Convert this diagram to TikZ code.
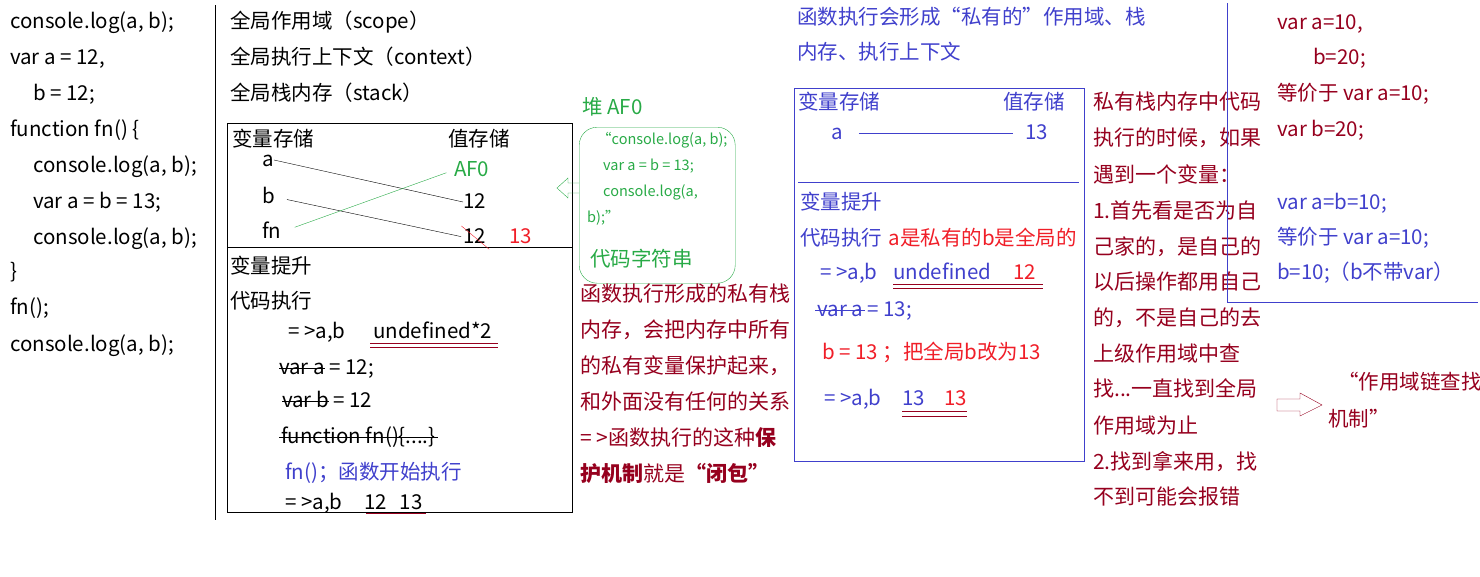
\documentclass[tikz,border=0pt]{standalone}
\usepackage{fontspec}
\setmainfont{Noto Sans CJK SC}
\usepackage{xcolor}
\usetikzlibrary{positioning}

\definecolor{codeblue}{RGB}{64,64,204}
\definecolor{heapgreen}{RGB}{40,170,70}
\definecolor{notered}{RGB}{150,0,30}
\definecolor{hotred}{RGB}{240,30,40}

\begin{document}
\begin{tikzpicture}[
  x=1pt, y=-1pt,
  txt/.style    ={anchor=west, inner sep=0pt, text height=16pt, text depth=3pt,
                  font=\fontsize{20.5}{24}\selectfont},
  note/.style   ={txt, notered, font=\fontsize{21}{25}\selectfont},
  heaptxt/.style={txt, heapgreen, text height=12pt, text depth=2pt,
                  font=\fontsize{14.5}{17}\selectfont},
  panel/.style  ={draw, anchor=north west, inner sep=0pt},
  strike/.style ={shorten <=-2pt, shorten >=-2pt},
  dbl/.style    ={notered, double, double distance=3pt, line width=1pt}
]
\useasboundingbox (0,0) rectangle (1480,576);

%--- source code ------------------------------------------------------------
\node[txt] (src1)  at (10,22)  {console.log(a, b);};
\node[txt] (src2)  at (10,58)  {var a = 12,};
\node[txt] (src3)  at (33,94)  {b = 12;};
\node[txt] (src4)  at (10,130) {function fn() \{};
\node[txt] (src5)  at (33,166) {console.log(a, b);};
\node[txt] (src6)  at (33,202) {var a = b = 13;};
\node[txt] (src7)  at (33,238) {console.log(a, b);};
\node[txt] (src8)  at (10,272) {\}};
\node[txt] (src9)  at (10,308) {fn();};
\node[txt] (src10) at (10,345) {console.log(a, b);};

\draw (215,5) -- (215,520);

%--- global stack -----------------------------------------------------------
\node[txt] (scope)   at (230,22) {全局作用域（scope）};
\node[txt] (context) at (230,58) {全局执行上下文（context）};
\node[txt] (stack)   at (230,94) {全局栈内存（stack）};

\node[panel, minimum width=345pt, minimum height=389pt] (gstack) at (227,123) {};
\draw (gstack.west |- 0,247) -- (gstack.east |- 0,247);

\node[txt] (gvars) at (232,140) {变量存储};
\node[txt] (gvals) at (448,140) {值存储};
\node[txt] (ga)    at (262,160) {a};
\node[txt] (gb)    at (262,197) {b};
\node[txt] (gfn)   at (262,232) {fn};
\node[txt, heapgreen] (gaf) at (454,170) {AF0};
\node[txt] (v12a)  at (463,202) {12};
\node[txt] (v12b)  at (463,237) {12};
\node[txt, hotred] (v13) at (509,237) {13};

\draw[shorten <=12pt, shorten >=2pt] (ga.east) -- (v12a.west)
      (gb.east) -- (v12b.west);
\draw[heapgreen, shorten <=14pt, shorten >=8pt] (gfn.east) -- (gaf.west);
\draw[hotred, shorten <=-2pt, shorten >=-4pt] (v12b.north west) -- (v12b.south east);

\node[txt] (ghoist) at (230,267) {变量提升};
\node[txt] (grun)   at (230,302) {代码执行};
\node[txt] (gout1)  at (288,332) {= >a,b};
\node[txt] (gundef) at (373,332) {undefined*2};
\draw[dbl] ([shift={(-3pt,-4pt)}]gundef.south west) -- ([shift={(6pt,-4pt)}]gundef.south east);

\node[txt] (gvara)  at (279,368) {var a};
\node[txt, right=4pt of gvara] (gvara2) {= 12;};
\node[txt] (gvarb)  at (282,401) {var b};
\node[txt, right=4pt of gvarb] (gvarb2) {= 12};
\node[txt] (gfun)   at (281,437) {function fn()\{....\}};
\draw[strike] (gvara.west) -- (gvara.east)
              (gvarb.west) -- (gvarb.east)
              (gfun.west) -- (gfun.east);

\node[txt, codeblue] (gcall) at (285,473) {fn()；函数开始执行};
\node[txt] (gout2) at (285,503) {= >a,b};
\node[txt] (gres)  at (364,503) {12\hspace{13pt}13};
\draw[notered, line width=1pt] ([shift={(2pt,-1pt)}]gres.south west) -- ([shift={(3pt,-1pt)}]gres.south east);

%--- heap -------------------------------------------------------------------
\node[txt, heapgreen] (heaplbl) at (582,108) {堆 AF0};
\node[panel, draw=heapgreen, rounded corners=18pt, minimum width=156pt,
      minimum height=156pt] (heap) at (579,127) {};
\node[heaptxt] (hl1) at (597,139) {“console.log(a, b);};
\node[heaptxt] (hl2) at (603,165) {var a = b = 13;};
\node[heaptxt] (hl3) at (603,191) {console.log(a,};
\node[heaptxt] (hl4) at (587,217) {b);”};
\node[txt, heapgreen] (hstr) at (590,260) {代码字符串};

\draw[heapgreen] (heap.west |- 0,183) -- (568,183) -- (568,178) -- (557,188)
      -- (568,198) -- (568,193) -- (heap.west |- 0,193);

%--- closure note -----------------------------------------------------------
\node[note] (cl1) at (580,295) {函数执行形成的私有栈};
\node[note] (cl2) at (580,331) {内存，会把内存中所有};
\node[note] (cl3) at (580,367) {的私有变量保护起来，};
\node[note] (cl4) at (580,403) {和外面没有任何的关系};
\node[note] (cl5) at (580,439) {= >函数执行的这种\textbf{保}};
\node[note] (cl6) at (580,475) {\textbf{护机制}就是\textbf{“闭包”}};

%--- private stack ----------------------------------------------------------
\node[txt, codeblue] (ptitle1) at (797,18) {函数执行会形成“私有的”作用域、栈};
\node[txt, codeblue] (ptitle2) at (797,53) {内存、执行上下文};

\node[panel, draw=codeblue, minimum width=290pt, minimum height=373pt] (fstack) at (794,88) {};
\draw[codeblue] (798,182) -- (1079,182);

\node[txt, codeblue] (pvars) at (798,103)  {变量存储};
\node[txt, codeblue] (pvals) at (1003,103) {值存储};
\node[txt, codeblue] (pa)    at (831,133)  {a};
\node[txt, codeblue] (p13)   at (1025,133) {13};
\draw[codeblue, shorten <=16pt, shorten >=12pt] (pa.east) -- (p13.west);

\node[txt, codeblue] (phoist) at (800,203) {变量提升};
\node[txt, codeblue] (prun)   at (800,239) {代码执行};
\node[txt, hotred, right=6pt of prun] (pwhy) {a是私有的b是全局的};
\node[txt, codeblue] (pout1)  at (820,273) {= >a,b};
\node[txt, codeblue] (pundef) at (893,273) {undefined};
\node[txt, hotred]   (p12)    at (1013,273) {12};
\draw[dbl] ([yshift=-4pt]pundef.south west) -- ([shift={(7pt,-4pt)}]p12.south east);

\node[txt, codeblue] (pvara) at (817,310) {var a};
\node[txt, codeblue, right=4pt of pvara] (pvara2) {= 13;};
\draw[codeblue, strike] (pvara.west) -- (pvara.east);

\node[txt, hotred] (pset) at (822,353) {b = 13 ；把全局b改为13};
\node[txt, codeblue] (pout2) at (824,399) {= >a,b};
\node[txt, codeblue] (pr1)   at (902,399) {13};
\node[txt, hotred]   (pr2)   at (944,399) {13};
\draw[notered, double, double distance=4pt, line width=1pt]
      ([yshift=-5pt]pr1.south west) -- ([yshift=-5pt]pr2.south east);

%--- scope chain note -------------------------------------------------------
\node[note] (sc1)  at (1093,103) {私有栈内存中代码};
\node[note] (sc2)  at (1093,139) {执行的时候，如果};
\node[note] (sc3)  at (1093,176) {遇到一个变量：};
\node[note] (sc4)  at (1093,212) {1.首先看是否为自};
\node[note] (sc5)  at (1093,248) {己家的，是自己的};
\node[note] (sc6)  at (1093,283) {以后操作都用自己};
\node[note] (sc7)  at (1093,319) {的，不是自己的去};
\node[note] (sc8)  at (1093,355) {上级作用域中查};
\node[note] (sc9)  at (1093,390) {找...一直找到全局};
\node[note] (sc10) at (1093,427) {作用域为止};
\node[note] (sc11) at (1093,463) {2.找到拿来用，找};
\node[note] (sc12) at (1093,498) {不到可能会报错};

\draw[notered] (1277,399) -- (1300,399) -- (1300,393) -- (1322,405)
      -- (1300,416) -- (1300,411) -- (1277,411) -- cycle;
\node[txt, notered] (chain1) at (1338,383) {“作用域链查找};
\node[txt, notered] (chain2) at (1328,420) {机制”};

%--- var shorthand ----------------------------------------------------------
\draw[codeblue] (1227,3) -- (1227,302) -- (1478,302);

\node[txt, notered]  (vd1) at (1277,23)  {var a=10,};
\node[txt, notered]  (vd2) at (1313,58)  {b=20;};
\node[txt, notered]  (vd3) at (1277,94)  {等价于 var a=10;};
\node[txt, notered]  (vd4) at (1277,130) {var b=20;};
\node[txt, codeblue] (vd5) at (1277,203) {var a=b=10;};
\node[txt, codeblue] (vd6) at (1277,238) {等价于 var a=10;};
\node[txt, codeblue] (vd7) at (1277,273) {b=10;（b不带var）};
\end{tikzpicture}
\end{document}
